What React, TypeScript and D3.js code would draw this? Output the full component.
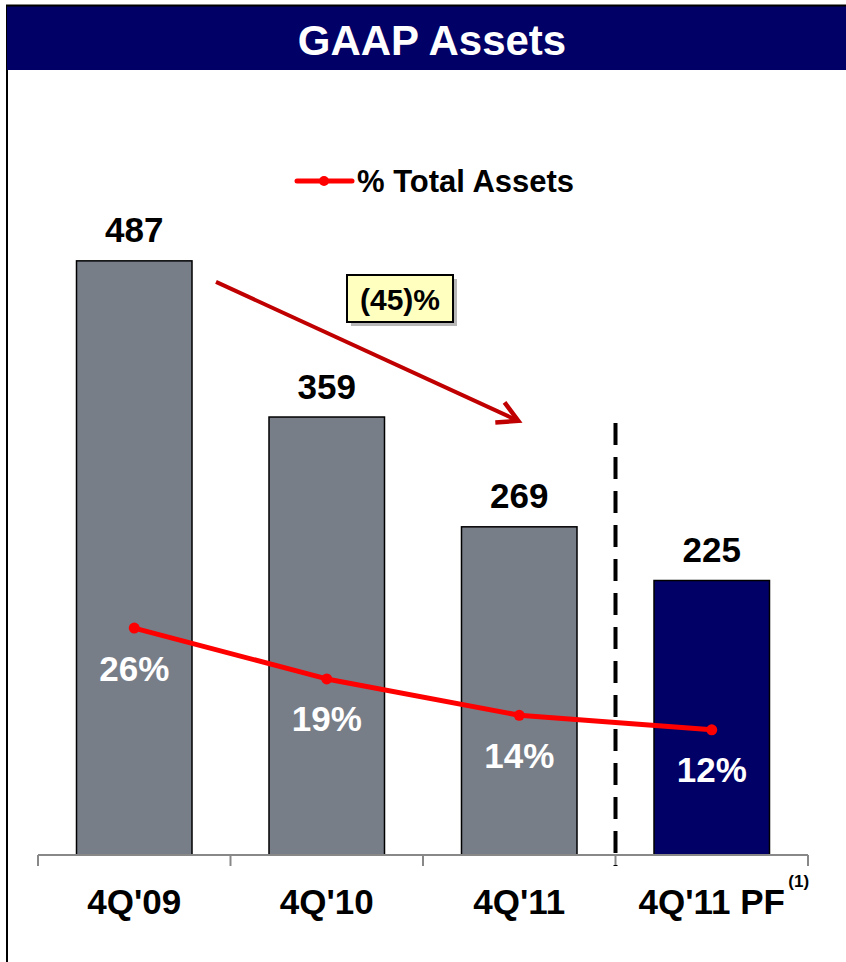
import React from "react";
import * as d3 from "d3";

const categories = ["4Q'09", "4Q'10", "4Q'11", "4Q'11 PF"];
const assets = [487, 359, 269, 225];
const pctTotal = [26, 19, 14, 12];
const barColors = ["#787E88", "#787E88", "#787E88", "#000066"];
const title = "GAAP Assets";
const legendLabel = "% Total Assets";
const changeLabel = "(45)%";

const W = 846;
const H = 962;
const FONT = "'Liberation Sans', Arial, Helvetica, sans-serif";

export default function App() {
  const x = d3.scaleBand<string>().domain(categories).range([38, 808]).paddingInner(0.4).paddingOuter(0.2);
  const y = d3.scaleLinear().domain([0, 500]).range([855, 245]);
  const yp = d3.scaleLinear().domain([0, 30]).range([817, 599]);
  const bw = x.bandwidth();
  const cx = (c: string) => (x(c) as number) + bw / 2;

  const linePath = d3
    .line<number>()
    .x((_, i) => cx(categories[i]))
    .y((d) => yp(d))(pctTotal) as string;

  const step = x.step();
  const boundaries = d3.range(categories.length + 1).map((i) => 38 + i * step);
  const dashX = 38 + 3 * step;

  // arrow annotation
  const ax0 = (x(categories[0]) as number) + bw + 24;
  const ay0 = y(assets[0]) + 21;
  const ax1 = cx(categories[2]) - 1;
  const ay1 = y(assets[2]) - 106;
  const ang = Math.atan2(ay1 - ay0, ax1 - ax0);
  const headLen = 23;
  const h1 = [ax1 - headLen * Math.cos(ang - 0.5), ay1 - headLen * Math.sin(ang - 0.5)];
  const h2 = [ax1 - headLen * Math.cos(ang + 0.5), ay1 - headLen * Math.sin(ang + 0.5)];

  return (
    <svg
      width={W}
      height={H}
      style={{ position: "absolute", left: 0, top: 0, background: "#fff" }}
      fontFamily={FONT}
    >
      {/* frame */}
      <line x1={7} x2={7} y1={5} y2={H} stroke="#000" strokeWidth={2} />
      <rect x={7} y={6} width={W - 7} height={64} fill="#000066" />
      <line x1={6} x2={W} y1={5.5} y2={5.5} stroke="#000" strokeWidth={2} />
      <text x={432} y={40} textAnchor="middle" dominantBaseline="central" fill="#fff" fontWeight="bold" fontSize={42}>
        {title}
      </text>

      {/* legend */}
      <line x1={297} x2={352} y1={181} y2={181} stroke="#FF0000" strokeWidth={5} strokeLinecap="round" />
      <circle cx={324} cy={181} r={5} fill="#FF0000" />
      <text x={357} y={181} dominantBaseline="central" fontWeight="bold" fontSize={31} fill="#000">
        {legendLabel}
      </text>

      {/* bars */}
      {categories.map((c, i) => (
        <rect
          key={c}
          x={x(c)}
          y={y(assets[i])}
          width={bw}
          height={y(0) - y(assets[i])}
          fill={barColors[i]}
          stroke="#000"
          strokeWidth={1.5}
        />
      ))}

      {/* value labels */}
      {categories.map((c, i) => (
        <text
          key={c}
          x={cx(c)}
          y={y(assets[i]) - 31}
          textAnchor="middle"
          dominantBaseline="central"
          fontWeight="bold"
          fontSize={35}
          fill="#000"
        >
          {assets[i]}
        </text>
      ))}

      {/* axis */}
      <line x1={38} x2={808} y1={855} y2={855} stroke="#888" strokeWidth={2} />
      {boundaries.map((b, i) => (
        <line key={i} x1={b} x2={b} y1={855} y2={866} stroke="#888" strokeWidth={2} />
      ))}

      {/* dashed separator */}
      <line x1={dashX} x2={dashX} y1={423} y2={866} stroke="#000" strokeWidth={4} strokeDasharray="22 12" />

      {/* percent line */}
      <path d={linePath} fill="none" stroke="#FF0000" strokeWidth={5} strokeLinejoin="round" />
      {pctTotal.map((p, i) => (
        <circle key={i} cx={cx(categories[i])} cy={yp(p)} r={5.5} fill="#FF0000" />
      ))}
      {pctTotal.map((p, i) => (
        <text
          key={i}
          x={cx(categories[i])}
          y={yp(p) + 40}
          textAnchor="middle"
          dominantBaseline="central"
          fontWeight="bold"
          fontSize={35}
          fill="#fff"
        >
          {p}%
        </text>
      ))}

      {/* x labels */}
      {categories.map((c) => (
        <text
          key={c}
          x={cx(c)}
          y={901}
          textAnchor="middle"
          dominantBaseline="central"
          fontWeight="bold"
          fontSize={35}
          fill="#000"
        >
          {c}
        </text>
      ))}
      <text x={cx(categories[3]) + 87} y={881} textAnchor="middle" dominantBaseline="central" fontWeight="bold" fontSize={17} fill="#000">
        (1)
      </text>

      {/* arrow */}
      <line x1={ax0} y1={ay0} x2={ax1} y2={ay1} stroke="#C00000" strokeWidth={4} />
      <polyline
        points={`${h1[0]},${h1[1]} ${ax1},${ay1} ${h2[0]},${h2[1]}`}
        fill="none"
        stroke="#C00000"
        strokeWidth={4.5}
        strokeLinejoin="miter"
      />

      {/* callout */}
      <rect x={351} y={279} width={106} height={47} fill="#999" opacity={0.7} />
      <rect x={347} y={275} width={106} height={47} fill="#FFFFC0" stroke="#000" strokeWidth={2} />
      <text x={400} y={299} textAnchor="middle" dominantBaseline="central" fontWeight="bold" fontSize={30} fill="#000">
        {changeLabel}
      </text>
    </svg>
  );
}
